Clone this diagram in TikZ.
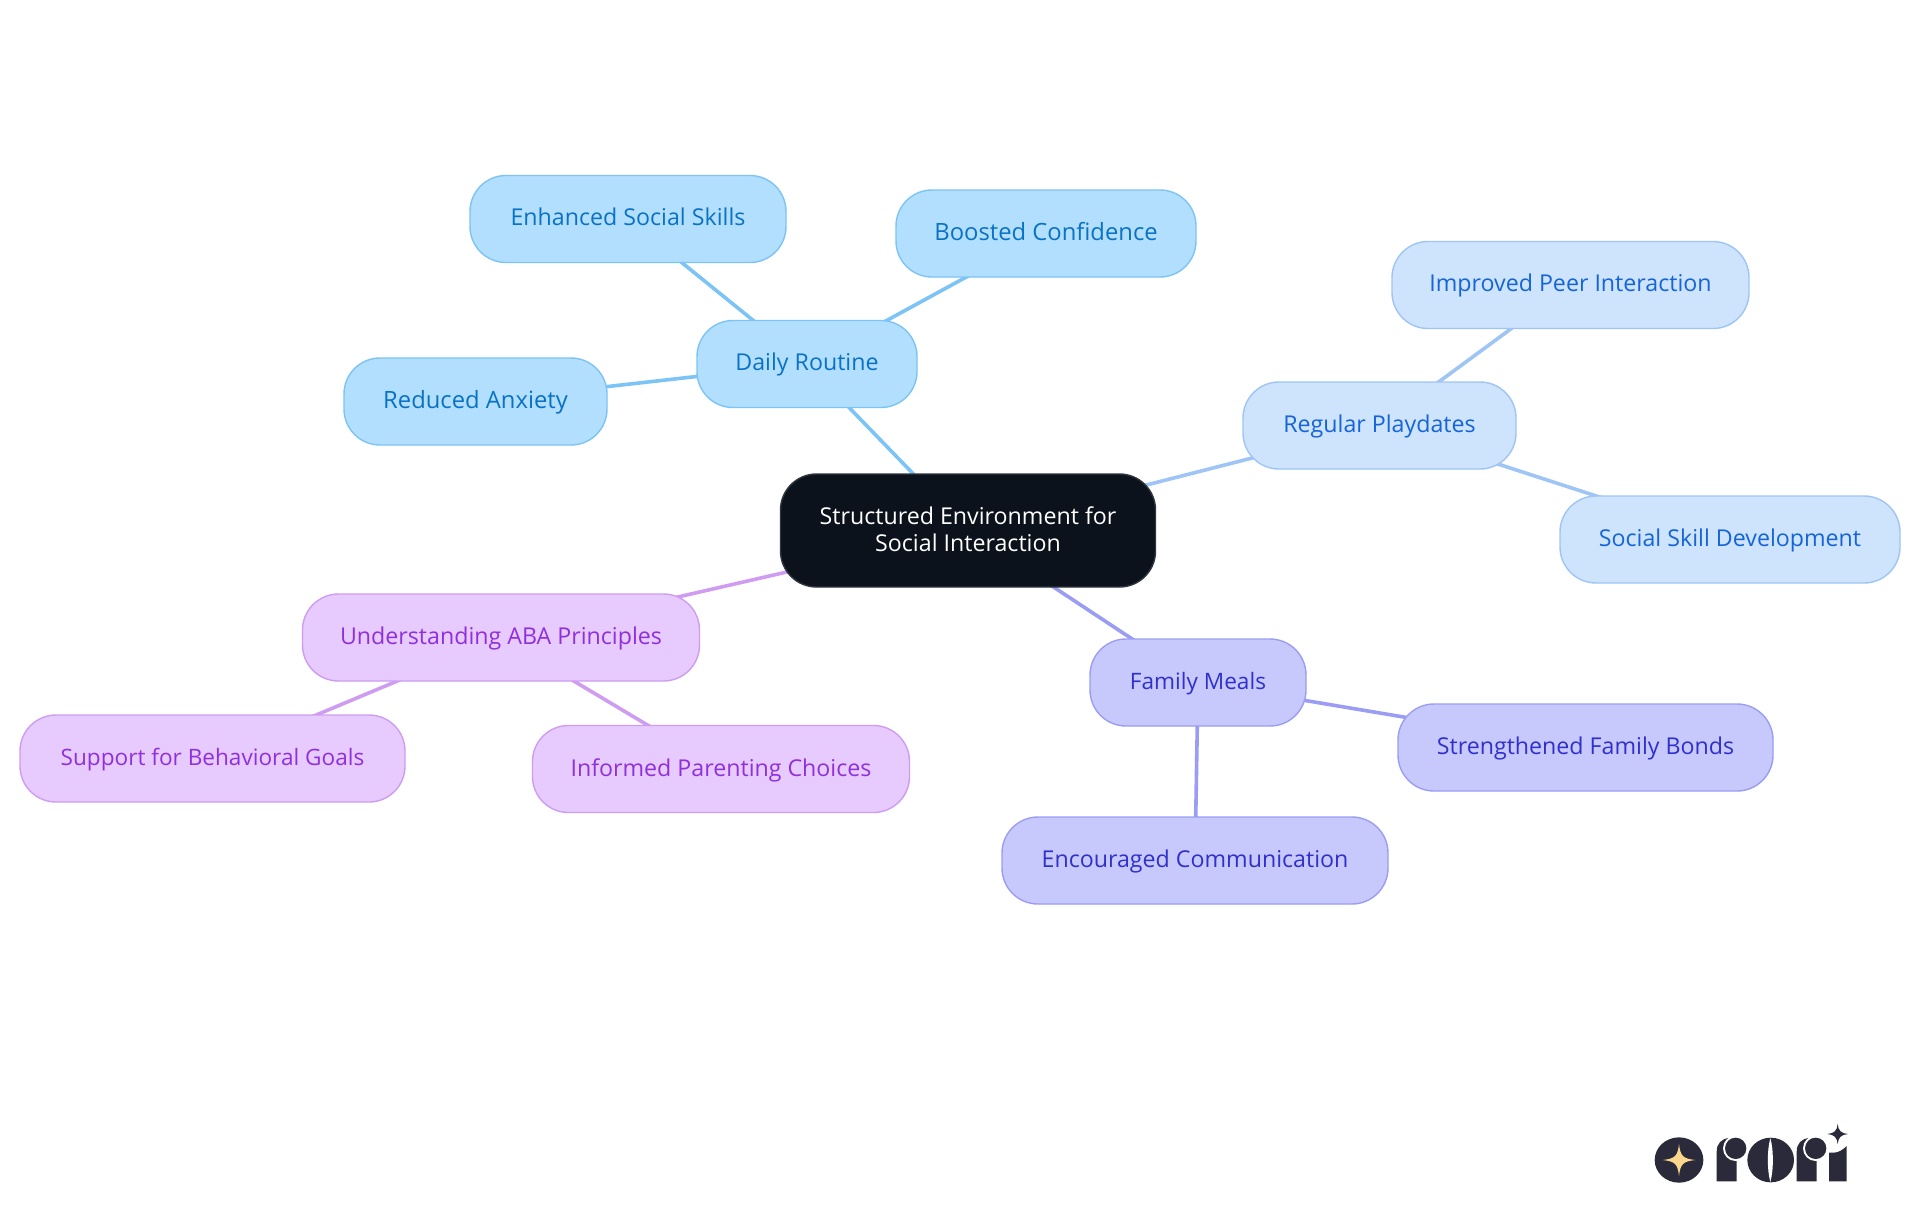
\documentclass[tikz,border=0pt]{standalone}
\usepackage{fontspec}
\setmainfont{Open Sans}
\usetikzlibrary{backgrounds}
\definecolor{bA}{HTML}{B3DFFF}\definecolor{sA}{HTML}{7CC4F5}\definecolor{tA}{HTML}{0A72C4}
\definecolor{bB}{HTML}{CEE3FC}\definecolor{sB}{HTML}{9EC5F5}\definecolor{tB}{HTML}{1565D8}
\definecolor{bC}{HTML}{C7C9FD}\definecolor{sC}{HTML}{9A9DF3}\definecolor{tC}{HTML}{3030CC}
\definecolor{bD}{HTML}{E7CAFE}\definecolor{sD}{HTML}{CE9DF2}\definecolor{tD}{HTML}{9030DD}
\definecolor{rootbg}{HTML}{0C121B}\definecolor{rootln}{HTML}{30363F}
\definecolor{logo}{HTML}{2A2A3A}\definecolor{gold}{HTML}{FAD78A}
\tikzset{
 x=0.5pt,y=-0.5pt,
 pill/.style={rounded corners=18pt,line width=0.7pt,inner sep=0pt,align=center,font=\fontsize{11.6}{13.3}\selectfont,minimum height=43.5pt,text height=9.6pt,text depth=2.4pt},
 pillA/.style={pill,fill=bA,draw=sA,text=tA},
 pillB/.style={pill,fill=bB,draw=sB,text=tB},
 pillC/.style={pill,fill=bC,draw=sC,text=tC},
 pillD/.style={pill,fill=bD,draw=sD,text=tD},
 roomy/.style={font=\fontsize{11.9}{13.3}\selectfont},
 tight/.style={font=\fontsize{11.3}{13.3}\selectfont},
 raised/.style={text height=9pt,text depth=3pt},
 rootnode/.style={rounded corners=18pt,line width=0.7pt,inner sep=0pt,align=center,font=\fontsize{11.6}{13.3}\selectfont,fill=rootbg,draw=rootln,text=white,minimum height=56.5pt,text depth=1.2pt},
 edgeA/.style={draw=sA,line width=1.8pt},
 edgeB/.style={draw=sB,line width=1.8pt},
 edgeC/.style={draw=sC,line width=1.8pt},
 edgeD/.style={draw=sD,line width=1.8pt},
}
\begin{document}
\begin{tikzpicture}
\useasboundingbox (0,0) rectangle (1920,1215);
\node[rootnode,minimum width=187.5pt] (root) at (968,530.5) {Structured Environment for\\Social Interaction};
\node[pillA,raised,minimum width=110pt] (daily) at (807,364) {Daily Routine};
\node[pillA,raised,minimum width=158pt] (enh) at (628,219) {Enhanced Social Skills};
\node[pillA,roomy,minimum width=150pt] (boost) at (1046,233.5) {Boosted Confidence};
\node[pillA,roomy,minimum width=131.5pt] (red) at (475.5,401.5) {Reduced Anxiety};
\node[pillB,minimum width=136.5pt] (play) at (1379.5,425.5) {Regular Playdates};
\node[pillB,raised,minimum width=178.5pt] (peer) at (1570.5,285) {Improved Peer Interaction};
\node[pillB,minimum width=170pt] (skill) at (1730,539.5) {Social Skill Development};
\node[pillC,tight,minimum width=108pt] (meals) at (1198,682.5) {Family Meals};
\node[pillC,minimum width=187.5pt] (bonds) at (1585.5,747.5) {Strengthened Family Bonds};
\node[pillC,minimum width=193pt] (comm) at (1195,860.5) {Encouraged Communication};
\node[pillD,minimum width=198.5pt] (aba) at (501,637.5) {Understanding ABA Principles};
\node[pillD,tight,minimum width=192.5pt] (goals) at (212.5,758.5) {Support for Behavioral Goals};
\node[pillD,minimum width=188.5pt] (choices) at (721,769) {Informed Parenting Choices};
\begin{scope}[on background layer]
\fill[white] (0,0) rectangle (1920,1215);
\draw[edgeA] (root.center) -- (daily.center);
\draw[edgeA] (daily.center) -- (enh.center);
\draw[edgeA] (daily.center) -- (boost.center);
\draw[edgeA] (daily.center) -- (red.center);
\draw[edgeB] (root.center) -- (play.center);
\draw[edgeB] (play.center) -- (peer.center);
\draw[edgeB] (play.center) -- (skill.center);
\draw[edgeC] (root.center) -- (meals.center);
\draw[edgeC] (meals.center) -- (bonds.center);
\draw[edgeC] (meals.center) -- (comm.center);
\draw[edgeD] (root.center) -- (aba.center);
\draw[edgeD] (aba.center) -- (goals.center);
\draw[edgeD] (aba.center) -- (choices.center);
\end{scope}
% logo, coordinates in thirds of a pixel
\begin{scope}[shift={(1620,1100)},x=0.16667pt,y=-0.16667pt]
\fill[logo] (177,180) ellipse[x radius=73,y radius=68];
\fill[gold] (177,132) .. controls (181,168) and (189,176) .. (226,180) .. controls (189,184) and (181,192) .. (177,228) .. controls (173,192) and (165,184) .. (128,180) .. controls (165,176) and (173,168) .. (177,132) -- cycle;
% first r
\fill[logo] (290,244) -- (290,155) .. controls (290,130) and (305,116) .. (327,114) -- (350,170) -- (350,244) -- cycle;
\fill[white] (347,145) circle[radius=38];
\fill[logo] (347,145) circle[radius=32];
% o
\fill[logo] (452,180) ellipse[x radius=70,y radius=67];
\fill[white] (451,114) .. controls (441,150) and (441,210) .. (451,246) .. controls (461,210) and (461,150) .. (451,114) -- cycle;
% second r
\fill[logo] (530,244) -- (530,155) .. controls (530,130) and (545,116) .. (567,114) -- (590,170) -- (590,244) -- cycle;
\fill[white] (587,145) circle[radius=38];
\fill[logo] (587,145) circle[radius=32];
% i
\fill[logo] (627,244) -- (627,158) -- (640,158) .. controls (655,158) and (668,150) .. (680,138) -- (680,244) -- cycle;
\fill[logo] (653,72) .. controls (655,92) and (663,100) .. (684,102) .. controls (663,104) and (655,112) .. (653,132) .. controls (651,112) and (643,104) .. (622,102) .. controls (643,100) and (651,92) .. (653,72) -- cycle;
\end{scope}
\end{tikzpicture}
\end{document}
